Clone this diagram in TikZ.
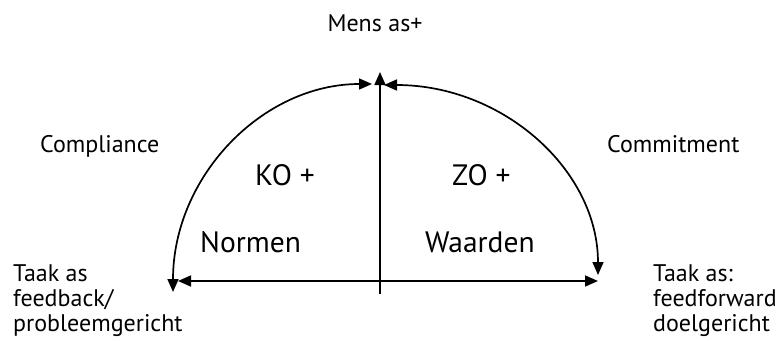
\documentclass[tikz,border=0pt]{standalone}
\usepackage{fontspec}
\setmainfont{PT Sans}
\usetikzlibrary{arrows.meta,positioning,calc}
\tikzset{
axisline/.style={line width=1.7pt, draw=black},
axisarrow/.style={axisline, -{Triangle[length=13pt,width=11pt]}},
axisboth/.style={axisline, {Triangle[length=13pt,width=11pt]}-{Triangle[length=13pt,width=11pt]}},
smalllabel/.style={inner sep=0pt, font=\fontsize{24}{25}\selectfont},
biglabel/.style={inner sep=0pt, font=\fontsize{29.5}{30}\selectfont},
sidelabel/.style={smalllabel, align=left, anchor=north west}
}
\begin{document}
\begin{tikzpicture}[x=1pt, y=-1pt, >=Latex]
  \useasboundingbox (0,0) rectangle (779,340);
  % axes
  \coordinate (axisTop) at (380,72);
  \coordinate (axisBot) at (380,294);
  \coordinate (axisLeft) at (178,281);
  \coordinate (axisRight) at (598,281);
  % arc ends
  \coordinate (arcLtop) at (372,84);
  \coordinate (arcLbot) at (173,292);
  \coordinate (arcRtop) at (384,85);
  \coordinate (arcRbot) at (598,275);
  \draw[axisarrow] (axisBot) -- (axisTop);
  \draw[axisboth] (axisLeft) -- (axisRight);
  \draw[axisboth] (arcLtop) .. controls (262,84) and (173,177) .. (arcLbot);
  \draw[axisboth] (arcRtop) .. controls (503,85) and (598,170) .. (arcRbot);
  % labels
  \node[smalllabel, anchor=base] (mens) at (375,31) {Mens as+};
  \node[smalllabel, anchor=base west] (compliance) at (40,152) {Compliance};
  \node[smalllabel, anchor=base west] (commitment) at (607,152) {Commitment};
  \node[biglabel, anchor=base west] (ko) at (255,185) {KO +};
  \node[biglabel, anchor=base west] (zo) at (452,185) {ZO +};
  \node[biglabel, anchor=base west] (normen) at (200,252) {Normen};
  \node[biglabel, anchor=base west] (waarden) at (425,252) {Waarden};
  \node[sidelabel] (taakL) at (13,264.5) {Taak as\\feedback/\\probleemgericht};
  \node[sidelabel] (taakR) at (653,264.5) {Taak as:\\feedforward\\doelgericht};
\end{tikzpicture}
\end{document}
